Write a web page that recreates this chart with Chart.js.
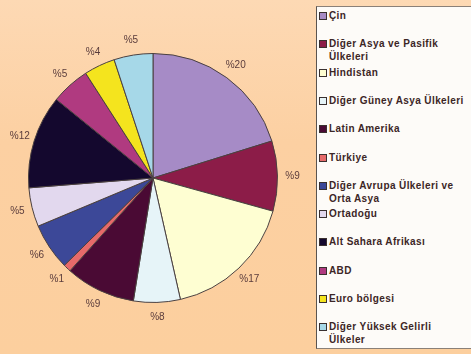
<!DOCTYPE html>
<html>
<head>
<meta charset="utf-8">
<script src="https://cdn.jsdelivr.net/npm/chart.js@4"></script>
<style>
  html, body { margin: 0; padding: 0; }
  body {
    width: 471px; height: 354px; overflow: hidden; position: relative;
    background: linear-gradient(180deg, #fdd9b4 0%, #fcd0a2 40%, #fccf9e 100%);
    font-family: "Liberation Sans", Arial, sans-serif;
  }
  #pie { position: absolute; left: 0; top: 0; }
  #legend {
    position: absolute; left: 316px; top: 6px; width: 160px; height: 343px;
    background: #fdfbf8; border: 1px solid #8a8078; border-left-color: #5a5450;
    box-sizing: border-box;
  }
  .item {
    position: absolute; left: 0; white-space: pre; line-height: 13px;
    font-weight: bold; font-size: 10px; letter-spacing: 0.4px; color: #3c2626;
    padding-left: 12px;
  }
  .box {
    position: absolute; left: 2px; top: 3px; width: 6px; height: 6px;
    border: 1px solid #3a3030;
  }
</style>
</head>
<body>
<canvas id="pie" width="471" height="354"></canvas>
<div id="legend"></div>
<script>
// ======================= DATA =======================

const categories = [
    'Çin', 'Diğer Asya ve Pasifik\nÜlkeleri', 'Hindistan', 'Diğer Güney Asya Ülkeleri',
    'Latin Amerika', 'Türkiye', 'Diğer Avrupa Ülkeleri ve\nOrta Asya', 'Ortadoğu',
    'Alt Sahara Afrikası', 'ABD', 'Euro bölgesi', 'Diğer Yüksek Gelirli\nÜlkeler'
];
const shares = [20, 9, 17, 6, 9, 1, 6, 5, 12, 5, 4, 5];
const shareLabels = ['%20', '%9', '%17', '%8', '%9', '%1', '%6', '%5', '%12', '%5', '%4', '%5'];
const sliceColors = [
    '#a68bc6', '#8c1c48', '#fefed2', '#e6f4f8', '#4a0a34', '#e66a6a',
    '#3c4898', '#e2d8ee', '#14082e', '#b03a80', '#f4e41e', '#a6d8e8'
];


// ======================= OUTSIDE PERCENT LABELS =======================

const outsideLabels = {
    id: 'outsideLabels',
    afterDatasetsDraw(chart) {
        const ctx = chart.ctx;
        ctx.save();
        ctx.font = '10px "Liberation Sans", Arial, sans-serif';
        ctx.fillStyle = '#5a3c3c';
        ctx.textAlign = 'center';
        ctx.textBaseline = 'middle';
        chart.getDatasetMeta(0).data.forEach((arc, i) => {
            const p = arc.getProps(['x', 'y', 'startAngle', 'endAngle', 'outerRadius'], true);
            const mid = (p.startAngle + p.endAngle) / 2;
            const r = p.outerRadius + 15;
            ctx.fillText(shareLabels[i], p.x + Math.cos(mid) * r, p.y + Math.sin(mid) * r);
        });
        ctx.restore();
    }
};


// ======================= PIE CHART =======================

new Chart(document.getElementById('pie').getContext('2d'), {
    type: 'pie',
    data: {
        labels: categories,
        datasets: [{
            data: shares,
            backgroundColor: sliceColors,
            borderColor: '#4a4040',
            borderWidth: 1
        }]
    },
    options: {
        responsive: false,
        animation: false,
        layout: { padding: { left: 28, right: 193, top: 53, bottom: 51 } },
        plugins: {
            legend: { display: false },
            tooltip: { enabled: false }
        }
    },
    plugins: [outsideLabels]
});


// ======================= HTML LEGEND =======================

const legend = document.getElementById('legend');
categories.forEach((name, i) => {
    const item = document.createElement('div');
    item.className = 'item';
    item.style.top = (2 + i * 28.3) + 'px';
    const box = document.createElement('span');
    box.className = 'box';
    box.style.background = sliceColors[i];
    item.appendChild(box);
    item.appendChild(document.createTextNode(name));
    legend.appendChild(item);
});
</script>
</body>
</html>
